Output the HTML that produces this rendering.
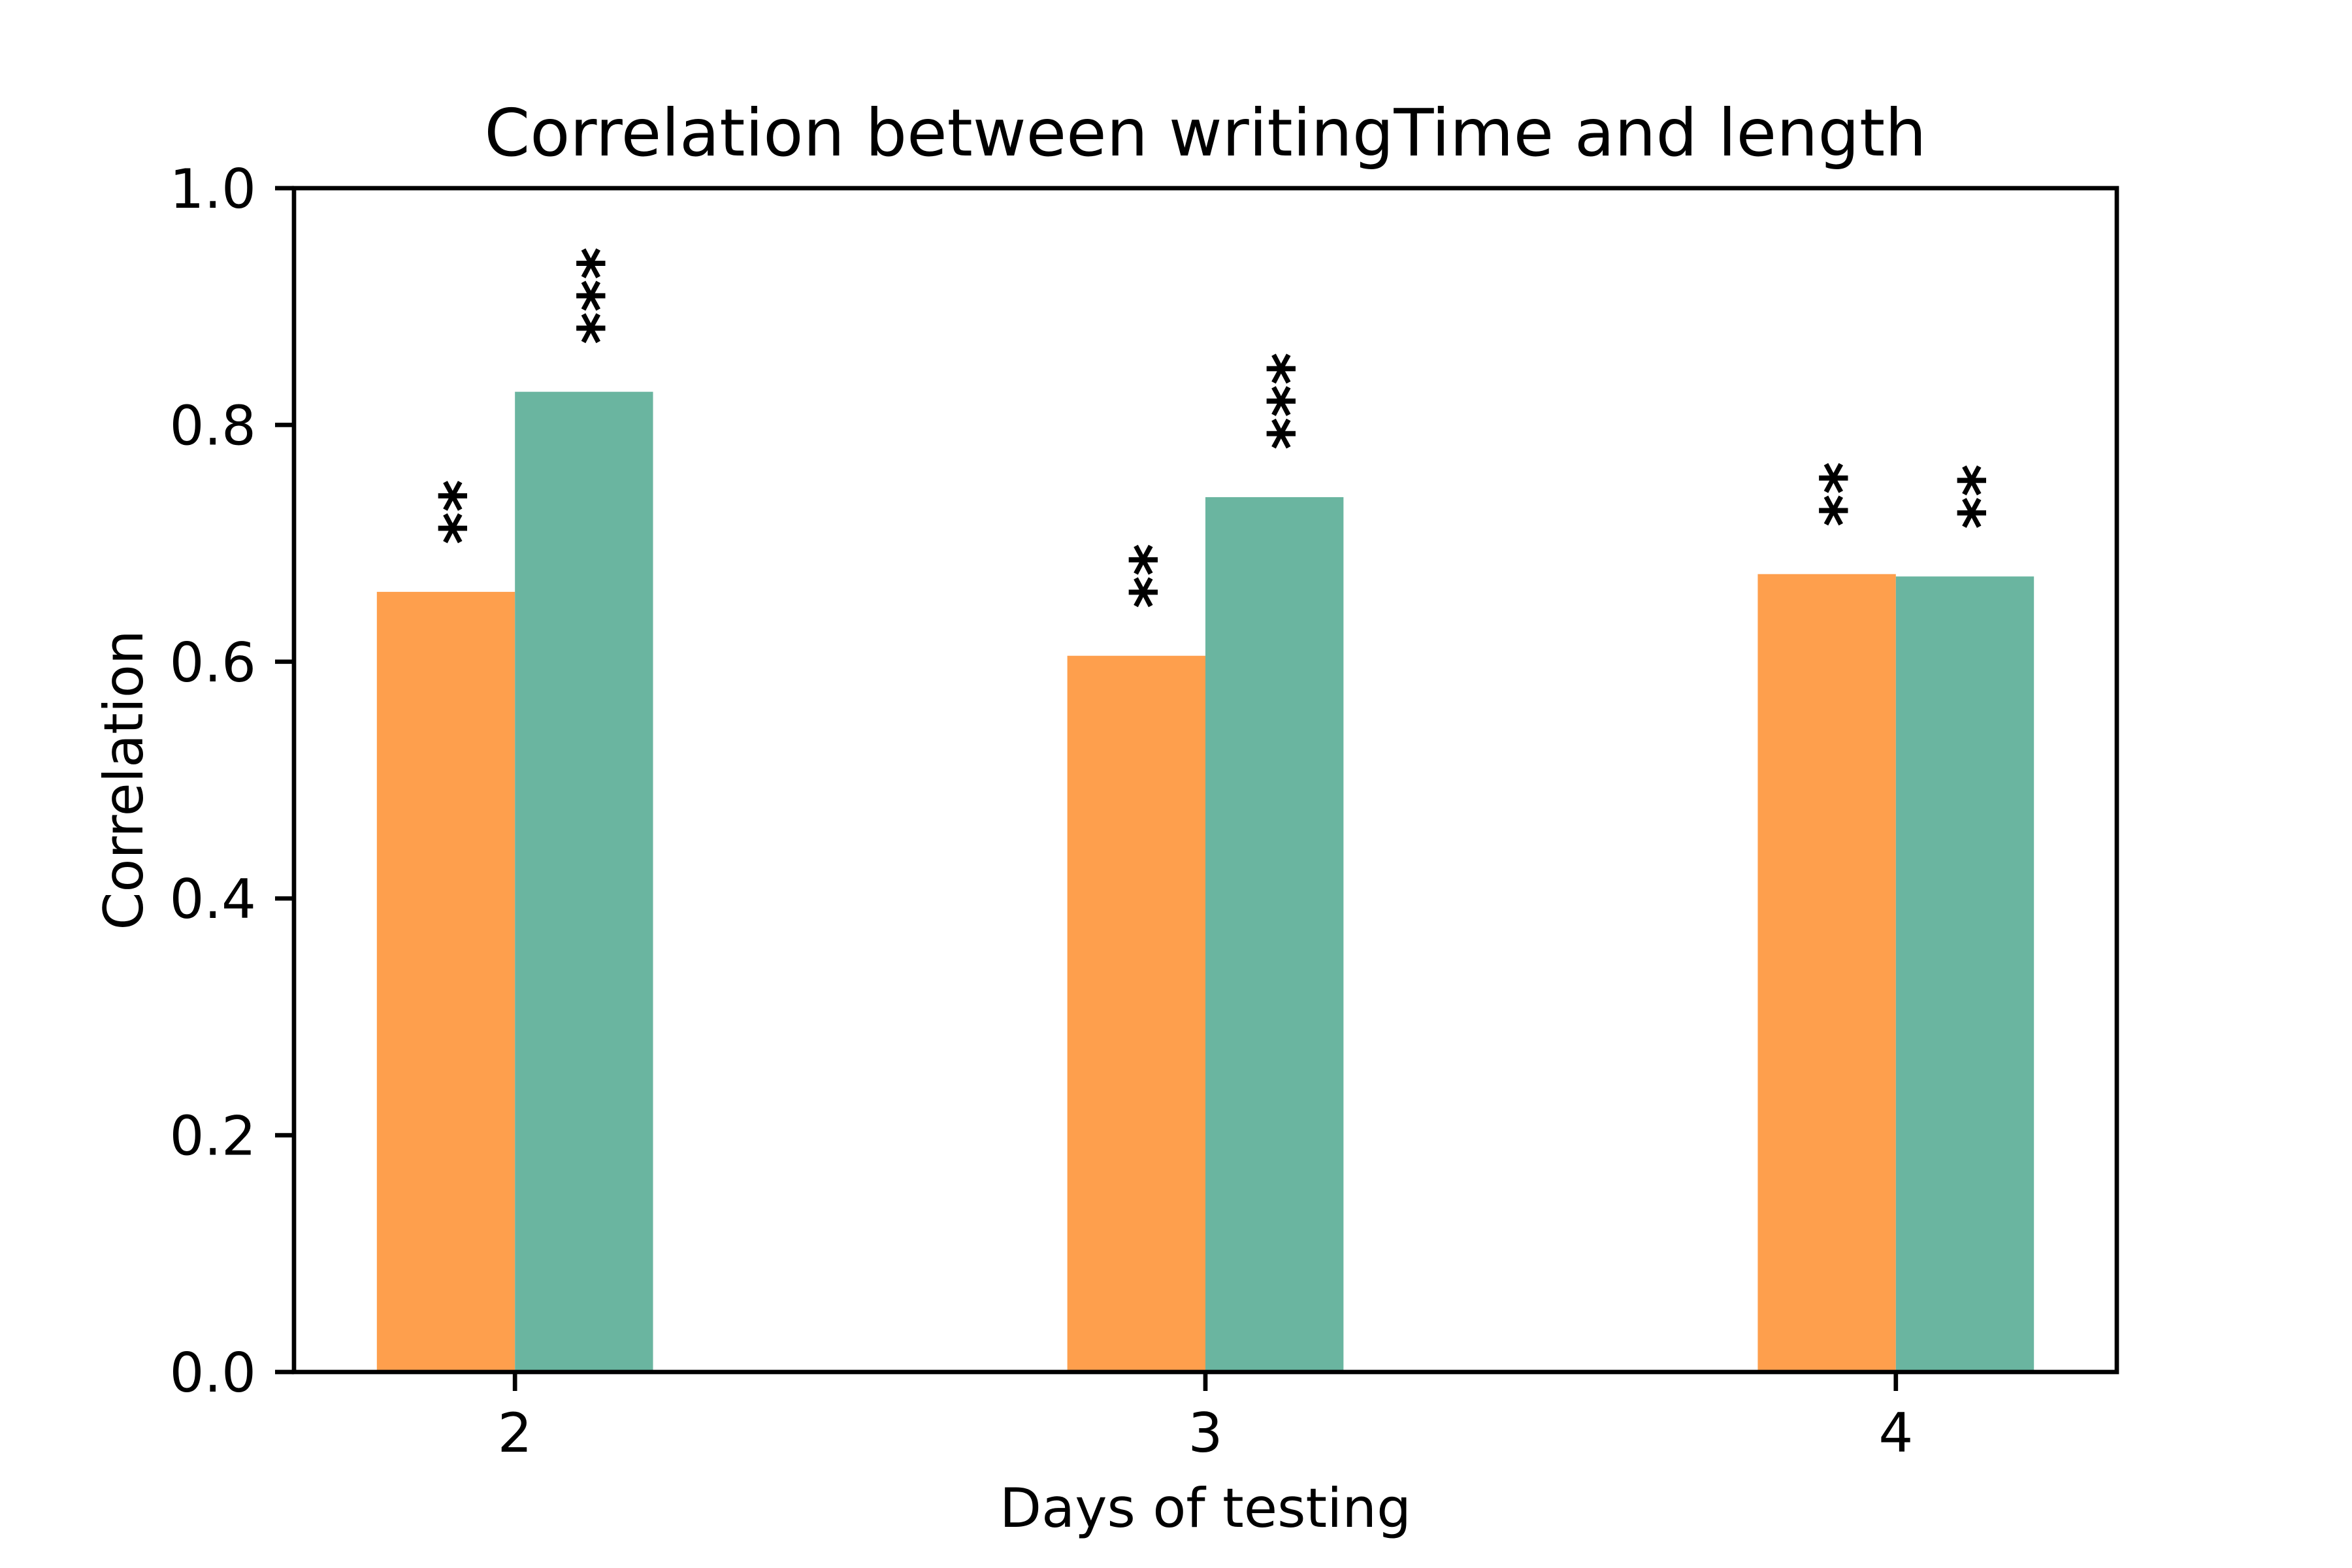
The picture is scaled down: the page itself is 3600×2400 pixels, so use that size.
<!DOCTYPE html>
<html><head><meta charset="utf-8"><style>
html,body{margin:0;padding:0;background:#fff;}
svg{display:block;}
text{font-family:"DejaVu Sans","Liberation Sans",sans-serif;fill:#000;}
</style></head><body>
<svg id="chart" width="3600" height="2400" viewBox="0 0 3600 2400" xmlns="http://www.w3.org/2000/svg">
<rect x="0" y="0" width="3600" height="2400" fill="#fff"/>
<text x="1845" y="238" font-size="100" text-anchor="middle">Correlation between writingTime and length</text>
<text x="1845" y="2337" font-size="83.3" text-anchor="middle">Days of testing</text>
<text transform="translate(218,1194) rotate(-90)" x="0" y="0" font-size="83.3" text-anchor="middle">Correlation</text>
<g id="bars"></g>
<g id="annots"></g>
<g id="axes"></g>
</svg>
<script>
const categories = ["2", "3", "4"];
const seriesA = [0.659, 0.605, 0.674];
const seriesB = [0.828, 0.739, 0.672];
const starsA = ["**", "**", "**"];
const starsB = ["***", "***", "**"];
const yTicks = [0, 0.2, 0.4, 0.6, 0.8, 1.0];
const yTickLabels = ["0.0", "0.2", "0.4", "0.6", "0.8", "1.0"];

const L = 450, R = 3240, T = 288, B = 2100;
const xMin = -0.32, xMax = 2.32, yMin = 0, yMax = 1;
const X = v => L + (v - xMin) / (xMax - xMin) * (R - L);
const Y = v => B - (v - yMin) / (yMax - yMin) * (B - T);
const NS = "http://www.w3.org/2000/svg";
const bw = 0.2;
const bars = document.getElementById("bars");
const annots = document.getElementById("annots");
const axes = document.getElementById("axes");

function mk(tag, attrs, parent) {
  const e = document.createElementNS(NS, tag);
  for (const k in attrs) e.setAttribute(k, attrs[k]);
  parent.appendChild(e);
  return e;
}

categories.forEach((c, i) => {
  [[seriesA, starsA, "#fe9f4d", -0.1, "a"], [seriesB, starsB, "#6ab5a0", 0.1, "b"]].forEach(([vals, stars, col, off, s]) => {
    const x0 = X(i + off - bw / 2), x1 = X(i + off + bw / 2);
    const r = mk("rect", {x: x0, y: Y(vals[i]), width: x1 - x0, height: Y(0) - Y(vals[i]), fill: col}, bars);
    
    
    const cx = X(i + off) + 59;
    const t = mk("text", {transform: "translate(" + cx + "," + Y(vals[i] + 0.04) + ") rotate(-90)", "font-size": 95, "font-weight": "bold"}, annots);
    t.textContent = stars[i];
    
    
  });
  const tx = X(i);
  const tk = mk("line", {x1: tx, x2: tx, y1: B, y2: B + 29, stroke: "#000", "stroke-width": 6.7}, axes);
  
  
  const tl = mk("text", {x: tx, y: 2222, "font-size": 83.3, "text-anchor": "middle"}, axes);
  tl.textContent = c;
  
  
});

yTicks.forEach((v, i) => {
  const y = Y(v);
  const tk = mk("line", {x1: L - 29, x2: L, y1: y, y2: y, stroke: "#000", "stroke-width": 6.7}, axes);
  
  
  const tl = mk("text", {x: 392, y: y + 30, "font-size": 83.3, "text-anchor": "end"}, axes);
  tl.textContent = yTickLabels[i];
  
  
});

const frame = mk("rect", {x: L, y: T, width: R - L, height: B - T, fill: "none", stroke: "#000", "stroke-width": 6.7}, axes);


</script>
</body></html>
